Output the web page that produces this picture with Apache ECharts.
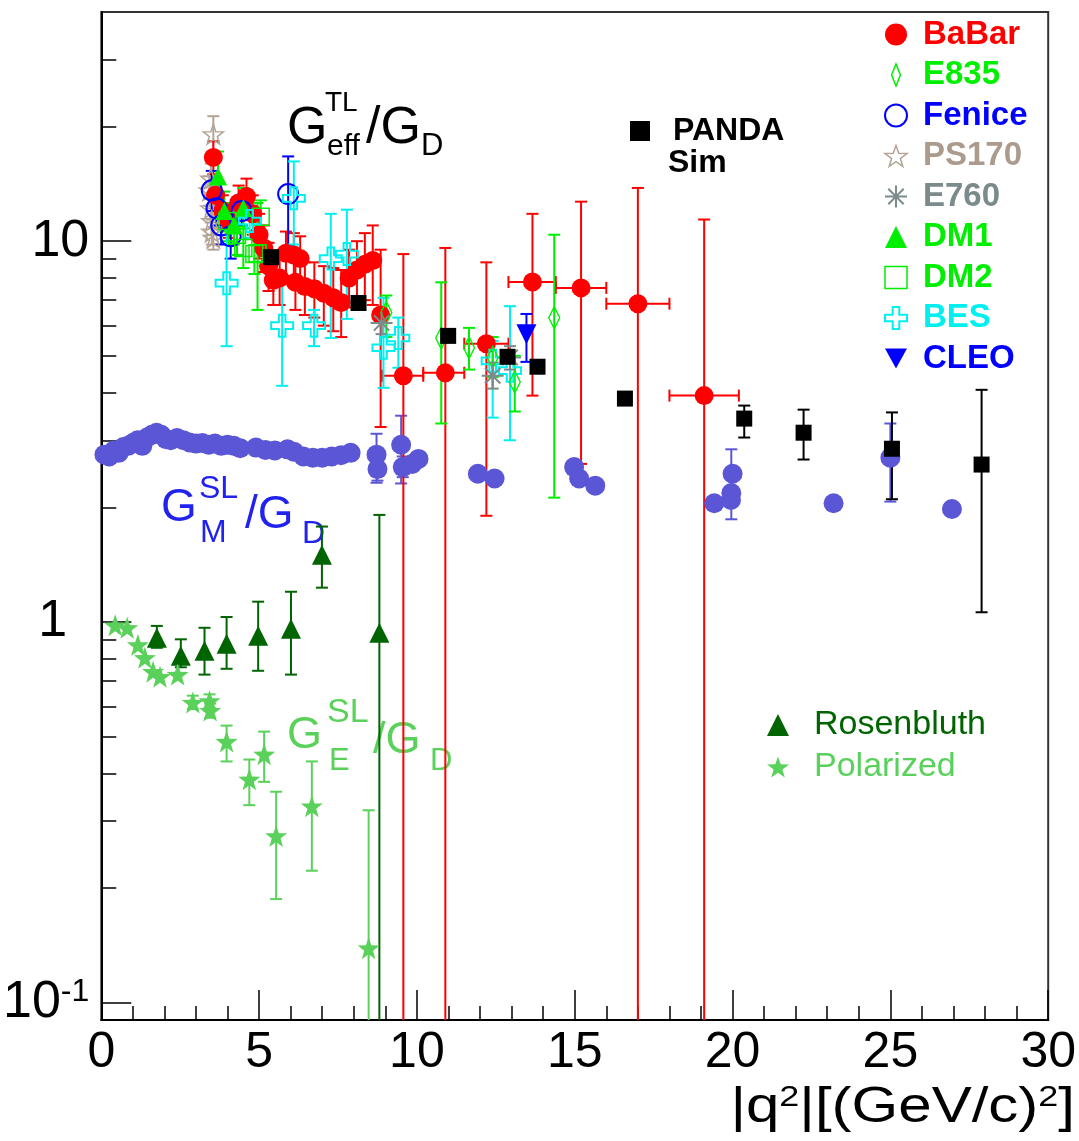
<!DOCTYPE html>
<html>
<head>
<meta charset="utf-8">
<script src="https://cdn.jsdelivr.net/npm/echarts@6/dist/echarts.min.js"></script>
<style>
  html, body { margin: 0; padding: 0; background: #fff; }
  #chart { width: 1079px; height: 1141px; }
</style>
</head>
<body>
<div id="chart"></div>
<script>
// rows: [q2, value, valueLow, valueHigh, q2Low, q2High]  (missing = no error)
var babar = [
  [3.55, 16.6, 15.0, 18.3], [3.62, 13.2, 12.0, 14.5], [3.85, 12.0, 10.8, 13.2],
  [4.05, 11.3, 10.2, 12.5], [4.35, 12.6, 11.3, 14.0], [4.6, 13.1, 11.7, 14.6],
  [4.8, 11.8, 10.4, 13.2], [5.0, 10.4, 9.0, 11.8], [5.15, 9.6, 8.3, 11.0],
  [5.3, 8.6, 7.4, 9.9], [5.45, 7.9, 6.8, 9.1], [5.65, 8.0, 6.8, 9.2],
  [5.85, 9.3, 8.1, 10.6], [6.1, 9.2, 8.0, 10.5], [6.3, 9.0, 7.8, 10.3],
  [6.15, 7.8, 6.6, 9.0], [6.45, 7.6, 6.4, 8.8], [6.75, 7.5, 6.3, 8.8],
  [7.05, 7.3, 6.0, 8.6], [7.35, 7.1, 5.8, 8.5], [7.6, 6.9, 5.6, 8.4],
  [7.85, 8.0, 6.7, 9.5], [8.1, 8.4, 6.9, 10.0], [8.35, 8.7, 7.0, 10.5],
  [8.6, 8.9, 6.8, 11.0], [8.85, 6.4, 3.25, 9.5],
  [9.57, 4.43, 0.01, 9.25, 8.9, 10.2], [10.9, 4.51, 0.01, 9.6, 10.2, 11.5],
  [12.2, 5.38, 1.9, 8.8, 11.5, 12.9], [13.66, 7.81, 3.93, 11.8, 12.9, 14.4],
  [15.2, 7.54, 2.6, 12.7, 14.4, 16.0], [17.0, 6.85, 0.01, 13.8, 16.0, 18.0],
  [19.1, 3.93, 0.01, 11.4, 18.0, 20.2]
];
var e835 = [
  [9.03, 6.5, 5.6, 7.2], [10.77, 5.57, 3.32, 7.8], [11.65, 5.25, 4.6, 5.92],
  [12.4, 4.95, 4.4, 5.6], [13.1, 4.27, 3.57, 5.0], [14.35, 6.29, 2.12, 10.4]
];
var fenice = [
  [3.5, 13.6, 12.0, 15.3], [3.65, 12.2, 11.0, 13.5], [3.8, 11.0, 9.8, 12.3],
  [4.1, 10.3, 9.0, 11.6], [4.45, 12.0, 11.0, 13.2], [5.92, 13.3, 9.7, 16.7]
];
var ps170 = [
  [3.55, 19.1, 17.0, 21.3], [3.47, 14.6, 13.2, 16.0], [3.42, 13.6, 12.4, 14.8],
  [3.47, 12.2, 11.2, 13.2], [3.5, 11.3, 10.4, 12.2], [3.5, 10.6, 9.8, 11.4],
  [3.55, 10.2, 9.5, 10.9]
];
var e760 = [[8.88, 6.1, 5.7, 6.5], [12.4, 4.43, 4.1, 4.8], [12.95, 4.95, 4.6, 5.3]];
var dm1 = [
  [3.7, 14.8, 12.8, 17.2], [3.9, 12.0, 10.6, 13.5], [4.2, 11.0, 9.8, 12.3],
  [4.5, 12.2, 10.8, 13.8]
];
var dm2 = [
  [4.0, 11.3, 10.0, 12.6], [4.3, 10.4, 9.2, 11.6], [4.5, 9.6, 8.5, 10.8],
  [4.85, 9.25, 8.2, 10.4], [4.95, 9.3, 6.6, 12.6], [5.05, 11.6, 10.5, 12.8]
];
var bes = [
  [3.97, 7.76, 5.3, 10.9], [4.7, 11.3, 10.2, 12.4], [5.73, 6.0, 4.17, 7.9],
  [6.1, 12.96, 9.8, 16.2], [6.74, 6.0, 5.3, 6.6], [7.27, 9.0, 5.57, 11.8],
  [7.78, 9.25, 6.25, 12.1], [8.94, 5.25, 4.12, 7.1], [9.41, 5.57, 4.65, 6.3],
  [12.4, 4.85, 3.44, 5.47], [12.95, 4.57, 3.0, 6.75]
];
var cleo = [[13.47, 5.7, 4.82, 6.44]];
var panda = [
  [5.38, 9.08], [8.15, 6.88], [10.99, 5.64], [12.87, 4.97], [13.82, 4.68],
  [16.59, 3.86], [20.37, 3.42, 3.05, 3.7], [22.25, 3.14, 2.67, 3.61],
  [25.05, 2.85, 2.1, 3.55], [27.89, 2.59, 1.06, 4.07]
];
var gmSpacelike = [
  [0.1, 2.75], [0.25, 2.72], [0.4, 2.82], [0.55, 2.78], [0.7, 2.88], [0.85, 2.9],
  [1.0, 2.95], [1.15, 3.0], [1.3, 2.9], [1.45, 3.05], [1.6, 3.1], [1.75, 3.14],
  [1.9, 3.1], [2.05, 3.02], [2.2, 3.0], [2.4, 3.04], [2.6, 3.0], [2.8, 2.96],
  [3.0, 2.94], [3.2, 2.95], [3.4, 2.92], [3.6, 2.94], [3.8, 2.9], [4.0, 2.92],
  [4.2, 2.9], [4.4, 2.86], [4.9, 2.87], [5.2, 2.83], [5.5, 2.82], [5.9, 2.84],
  [6.1, 2.8], [6.4, 2.72], [6.7, 2.7], [7.0, 2.7], [7.3, 2.72], [7.6, 2.74],
  [7.9, 2.78], [8.72, 2.75, 2.32, 3.12], [8.75, 2.52, 2.35, 2.7],
  [9.5, 2.92, 2.31, 3.48], [9.55, 2.55, 2.4, 2.72], [9.85, 2.6], [10.05, 2.68],
  [11.93, 2.45], [12.46, 2.38], [14.98, 2.55], [15.14, 2.38], [15.65, 2.28],
  [19.42, 2.05], [19.96, 2.18, 1.86, 2.84], [20.0, 2.45], [19.95, 2.09],
  [23.2, 2.05], [25.0, 2.7, 2.07, 3.32], [26.95, 1.98]
];
var rosenbluth = [
  [1.76, 0.908, 0.855, 0.976], [2.52, 0.815, 0.76, 0.9], [3.27, 0.84, 0.727, 0.965],
  [3.97, 0.876, 0.753, 1.03], [4.97, 0.919, 0.744, 1.13], [6.01, 0.959, 0.727, 1.2],
  [6.99, 1.5, 1.23, 1.78], [8.81, 0.936, 0.01, 1.91]
];
var polarized = [
  [0.44, 0.98], [0.82, 0.965], [1.16, 0.87], [1.38, 0.805], [1.64, 0.74],
  [1.86, 0.718], [2.42, 0.727], [2.9, 0.614, 0.59, 0.64], [3.43, 0.62, 0.595, 0.645],
  [3.45, 0.585, 0.56, 0.61], [3.97, 0.485, 0.43, 0.534], [4.69, 0.386, 0.33, 0.435],
  [5.16, 0.449, 0.38, 0.515], [5.54, 0.274, 0.187, 0.358], [6.67, 0.328, 0.222, 0.43],
  [8.47, 0.139, 0.01, 0.32]
];

var yMajor = [0.1, 1, 10];
var yMinor = [0.2, 0.3, 0.4, 0.5, 0.6, 0.7, 0.8, 0.9, 2, 3, 4, 5, 6, 7, 8, 9, 20, 30];

var FONT = '"Liberation Sans", Arial, Helvetica, sans-serif';
var STAR = 'path://M0,-10L2.35,-3.24L9.51,-3.09L3.8,1.24L5.88,8.09L0,4L-5.88,8.09L-3.8,1.24L-9.51,-3.09L-2.35,-3.24Z';
var ASTER = 'path://M0,-10L0,10M-10,0L10,0M-7,-7L7,7M-7,7L7,-7';
var CROSS = 'path://M-3,-10L3,-10L3,-3L10,-3L10,3L3,3L3,10L-3,10L-3,3L-10,3L-10,-3L-3,-3Z';
var DIAMOND = 'path://M0,-10L4,0L0,10L-4,0Z';
var TRI_DOWN = 'path://M-10,-8L10,-8L0,10Z';
var CLEAR = 'rgba(0,0,0,0)';

function full(rows) {
  return rows.map(function (r) {
    return [r[0], r[1],
      r[2] != null ? r[2] : r[1], r[3] != null ? r[3] : r[1],
      r[4] != null ? r[4] : r[0], r[5] != null ? r[5] : r[0]];
  });
}

function seg(x1, y1, x2, y2, st) {
  return { type: 'line', shape: { x1: x1, y1: y1, x2: x2, y2: y2 }, style: st };
}

function errSeries(name, rows, color, width) {
  return {
    name: name + ' errors', type: 'custom', clip: true, silent: true,
    data: full(rows), encode: { x: 0, y: 1 },
    renderItem: function (params, api) {
      var q = api.value(0), v = api.value(1), lo = api.value(2), hi = api.value(3);
      var ql = api.value(4), qh = api.value(5);
      var st = { stroke: color, lineWidth: width }, cap = 6, kids = [];
      if (hi > lo) {
        var a = api.coord([q, hi]), b = api.coord([q, lo]);
        kids.push(seg(a[0], a[1], b[0], b[1], st));
        kids.push(seg(a[0] - cap, a[1], a[0] + cap, a[1], st));
        kids.push(seg(b[0] - cap, b[1], b[0] + cap, b[1], st));
      }
      if (qh > ql) {
        var c = api.coord([ql, v]), d = api.coord([qh, v]);
        kids.push(seg(c[0], c[1], d[0], d[1], st));
        kids.push(seg(c[0], c[1] - cap, c[0], c[1] + cap, st));
        kids.push(seg(d[0], d[1] - cap, d[0], d[1] + cap, st));
      }
      return { type: 'group', children: kids };
    }
  };
}

function ptSeries(name, rows, symbol, size, style) {
  return {
    name: name, type: 'scatter', silent: true,
    data: rows.map(function (r) { return [r[0], r[1]]; }),
    symbol: symbol, symbolSize: size,
    itemStyle: Object.assign({ opacity: 1 }, style)
  };
}

var sets = [
  { name: 'GM', rows: gmSpacelike, color: '#5b56d6', symbol: 'circle', size: 20, style: { color: '#5b56d6' } },
  { name: 'Rosenbluth', rows: rosenbluth, color: '#006400', symbol: 'triangle', size: 20, style: { color: '#006400' } },
  { name: 'Polarized', rows: polarized, color: '#5ad15a', symbol: STAR, size: 22, style: { color: '#5ad15a' } },
  { name: 'PS170', rows: ps170, color: '#b4a496', symbol: STAR, size: 20, style: { color: CLEAR, borderColor: '#b4a496', borderWidth: 1.5 } },
  { name: 'BaBar', rows: babar, color: '#ff0000', symbol: 'circle', size: 19, style: { color: '#ff0000' } },
  { name: 'Fenice', rows: fenice, color: '#0000ff', symbol: 'circle', size: 20, style: { color: CLEAR, borderColor: '#0000ff', borderWidth: 2 } },
  { name: 'DM1', rows: dm1, color: '#00ee00', symbol: 'triangle', size: 18, style: { color: '#00ee00' } },
  { name: 'DM2', rows: dm2, color: '#00ee00', symbol: 'rect', size: 17, style: { color: CLEAR, borderColor: '#00ee00', borderWidth: 1.5 } },
  { name: 'BES', rows: bes, color: '#00f0f0', symbol: CROSS, size: 22, style: { color: CLEAR, borderColor: '#00f0f0', borderWidth: 2 } },
  { name: 'E835', rows: e835, color: '#00ee00', symbol: DIAMOND, size: [11, 22], style: { color: CLEAR, borderColor: '#00ee00', borderWidth: 1.5 } },
  { name: 'E760', rows: e760, color: '#7b8a8b', symbol: ASTER, size: 22, style: { color: CLEAR, borderColor: '#7b8a8b', borderWidth: 2 } },
  { name: 'CLEO', rows: cleo, color: '#0000ff', symbol: TRI_DOWN, size: 20, style: { color: '#0000ff' } },
  { name: 'PANDA', rows: panda, color: '#000000', symbol: 'rect', size: 16, style: { color: '#000000' } }
];

var series = [];
sets.forEach(function (s) {
  series.push(errSeries(s.name, s.rows, s.color, 2));
  series.push(ptSeries(s.name, s.rows, s.symbol, s.size, s.style));
});

function legendItem(name, icon, itemStyle, color) {
  return { name: name, icon: icon, itemStyle: itemStyle, textStyle: { color: color } };
}

function piece(text, x, y, size, color) {
  return {
    type: 'text', x: x, y: y, silent: true,
    style: { text: text, fontSize: size, fill: color, fontFamily: FONT, verticalAlign: 'middle', align: 'left' }
  };
}

var chart = echarts.init(document.getElementById('chart'));
chart.setOption({
  animation: false,
  backgroundColor: '#fff',
  grid: { left: 96, top: 12, right: 30, bottom: 121, show: true, borderColor: '#333', borderWidth: 2, backgroundColor: 'transparent' },
  xAxis: {
    type: 'value', min: 0, max: 30, interval: 5,
    axisLine: { lineStyle: { color: '#000', width: 2 } },
    axisTick: { inside: true, length: 30, lineStyle: { color: '#000', width: 1.5 } },
    minorTick: { show: true, splitNumber: 5, length: 14, lineStyle: { color: '#000', width: 1.5 } },
    splitLine: { show: false },
    axisLabel: { fontSize: 50, color: '#000', fontFamily: FONT, margin: 8 }
  },
  yAxis: [{
    type: 'log', logBase: 10, min: 0.09, max: 40,
    axisLine: { show: true, lineStyle: { color: '#000', width: 2 } },
    axisTick: { inside: true, length: 30, customValues: yMajor, lineStyle: { color: '#000', width: 1.5 } },
    splitLine: { show: false },
    axisLabel: {
      customValues: yMajor, margin: 12, color: '#000', fontFamily: FONT,
      formatter: function (v) {
        if (Math.abs(v - 0.1) < 1e-6) return '{b|10}{s|-1}';
        if (Math.abs(v - 1) < 1e-6) return '{one|1}';
        if (Math.abs(v - 10) < 1e-6) return '{b|10}';
        return '';
      },
      rich: {
        b: { fontSize: 52, fontFamily: FONT, color: '#000' },
        one: { fontSize: 52, fontFamily: FONT, color: '#000', padding: [0, 22, 0, 0] },
        s: { fontSize: 32, fontFamily: FONT, color: '#000', verticalAlign: 'top' }
      }
    }
  }, {
    type: 'log', logBase: 10, min: 0.09, max: 40, position: 'left',
    axisLine: { show: false },
    axisTick: { inside: true, length: 15, customValues: yMinor, lineStyle: { color: '#000', width: 1.5 } },
    axisLabel: { show: false },
    splitLine: { show: false }
  }],
  legend: [{
    orient: 'vertical', left: 879, top: 13, itemWidth: 22, itemHeight: 22, itemGap: 7.5,
    selectedMode: false,
    textStyle: { fontSize: 33, fontWeight: 'bold', fontFamily: FONT, lineHeight: 30, padding: [0, 0, 0, 11] },
    data: [
      legendItem('BaBar', 'circle', { color: '#ff0000' }, '#ff0000'),
      legendItem('E835', DIAMOND, { color: CLEAR, borderColor: '#00ee00', borderWidth: 1.5 }, '#00ee00'),
      legendItem('Fenice', 'circle', { color: CLEAR, borderColor: '#0000ff', borderWidth: 2 }, '#0000ff'),
      legendItem('PS170', STAR, { color: CLEAR, borderColor: '#b4a496', borderWidth: 1.5 }, '#ab9b8d'),
      legendItem('E760', ASTER, { color: CLEAR, borderColor: '#7b8a8b', borderWidth: 2 }, '#7b8a8b'),
      legendItem('DM1', 'triangle', { color: '#00ee00' }, '#00ee00'),
      legendItem('DM2', 'rect', { color: CLEAR, borderColor: '#00ee00', borderWidth: 1.5 }, '#00ee00'),
      legendItem('BES', CROSS, { color: CLEAR, borderColor: '#00f0f0', borderWidth: 2 }, '#00f0f0'),
      legendItem('CLEO', TRI_DOWN, { color: '#0000ff' }, '#0000ff')
    ]
  }, {
    orient: 'vertical', left: 625, top: 110, itemWidth: 20, itemHeight: 20,
    selectedMode: false,
    textStyle: { fontSize: 32, fontWeight: 'bold', fontFamily: FONT, color: '#000', lineHeight: 30, padding: [0, 0, 0, 18] },
    data: [legendItem('PANDA', 'rect', { color: '#000' }, '#000')]
  }, {
    orient: 'vertical', left: 762, top: 703, itemWidth: 22, itemHeight: 22, itemGap: 8,
    selectedMode: false,
    textStyle: { fontSize: 34, fontFamily: FONT, lineHeight: 34, padding: [0, 0, 0, 20] },
    data: [
      legendItem('Rosenbluth', 'triangle', { color: '#006400' }, '#006400'),
      legendItem('Polarized', STAR, { color: '#5ad15a' }, '#5ad15a')
    ]
  }],
  graphic: [
    { type: 'group', silent: true, children: [
      piece('G', 287, 129, 52, '#000'),
      piece('TL', 325, 103, 28, '#000'),
      piece('eff', 327, 147, 30, '#000'),
      piece('/G', 366, 129, 52, '#000'),
      piece('D', 421, 146, 31, '#000'),

      piece('G', 161, 508, 46, '#2222ee'),
      piece('SL', 199, 489, 32, '#2222ee'),
      piece('M', 200, 533, 32, '#2222ee'),
      piece('/G', 245, 515, 46, '#2222ee'),
      piece('D', 302, 534, 32, '#2222ee'),

      piece('G', 287, 736, 45, '#5ad15a'),
      piece('SL', 327, 713, 34, '#5ad15a'),
      piece('E', 329, 761, 31, '#5ad15a'),
      piece('/G', 373, 741, 45, '#5ad15a'),
      piece('D', 430, 761, 31, '#5ad15a'),

      { type: 'text', x: 668, y: 163, style: { text: 'Sim', fontSize: 32, fontWeight: 'bold', fontFamily: FONT, fill: '#000', verticalAlign: 'middle' } },
      { type: 'text', x: 1075, y: 1108, scaleX: 1.2, style: {
        text: '{a||q}{s|2}{a||[(GeV/c)}{s|2}{a|]}', align: 'right', verticalAlign: 'middle',
        rich: {
          a: { fontSize: 50, fontFamily: FONT, fill: '#000' },
          s: { fontSize: 30, fontFamily: FONT, fill: '#000', verticalAlign: 'top' }
        }
      } }
    ] }
  ],
  series: series
});
</script>
</body>
</html>
